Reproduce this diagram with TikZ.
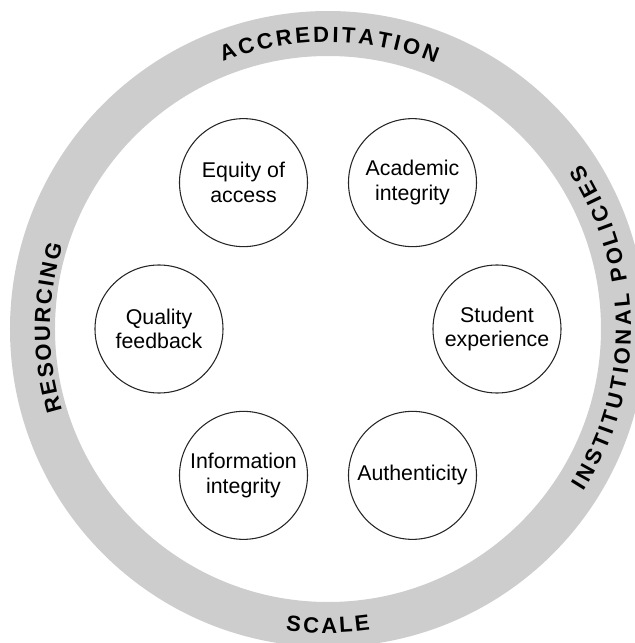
\documentclass[tikz,border=0pt]{standalone}
\usepackage{fontspec}
\setmainfont{Liberation Sans}
\usetikzlibrary{decorations.text}
\definecolor{ringgray}{RGB}{205,205,205}
\newcommand\ringfont{\bfseries\fontsize{16.5}{19}\selectfont}

\begin{document}
\begin{tikzpicture}[x=0.75pt, y=0.75pt,
         topic/.style = {circle, draw=black!85, line width=0.8pt,
         minimum size=96pt, inner sep=0pt, align=center,
         font=\fontsize{16}{18.5}\selectfont},
         ringtext/.style = {decorate, decoration={text along path,
         text align=fit to path, text={|\ringfont|#1}}}]

   \useasboundingbox (-328,-314) rectangle (307,329);

   % grey outer ring
   \coordinate (hub) at (0,0);
   \draw[ringgray, line width=33.75pt] (hub) circle[radius=295.5];

   % ring labels
   \path[ringtext=ACCREDITATION]
      (111.5:287) arc[start angle=111.5, end angle=68, radius=287];
   \path[ringtext=SCALE]
      (262:304) arc[start angle=262, end angle=278, radius=304];
   \path[ringtext=RESOURCING]
      (197:278) arc[start angle=197, end angle=162.5, radius=278];
   \path[ringtext=INSTITUTIONAL POLICIES]
      (-32.5:303) arc[start angle=-32.5, end angle=33, radius=303];

   % six topics
   \node[topic] (equity)    at (120:169) {Equity of\\access};
   \node[topic] (integrity) at (60:169)  {Academic\\integrity};
   \node[topic] (student)   at (0:169)   {Student\\experience};
   \node[topic] (authentic) at (-60:169) {Authenticity};
   \node[topic] (info)      at (-120:169) {Information\\integrity};
   \node[topic] (feedback)  at (180:169) {Quality\\feedback};

\end{tikzpicture}
\end{document}
